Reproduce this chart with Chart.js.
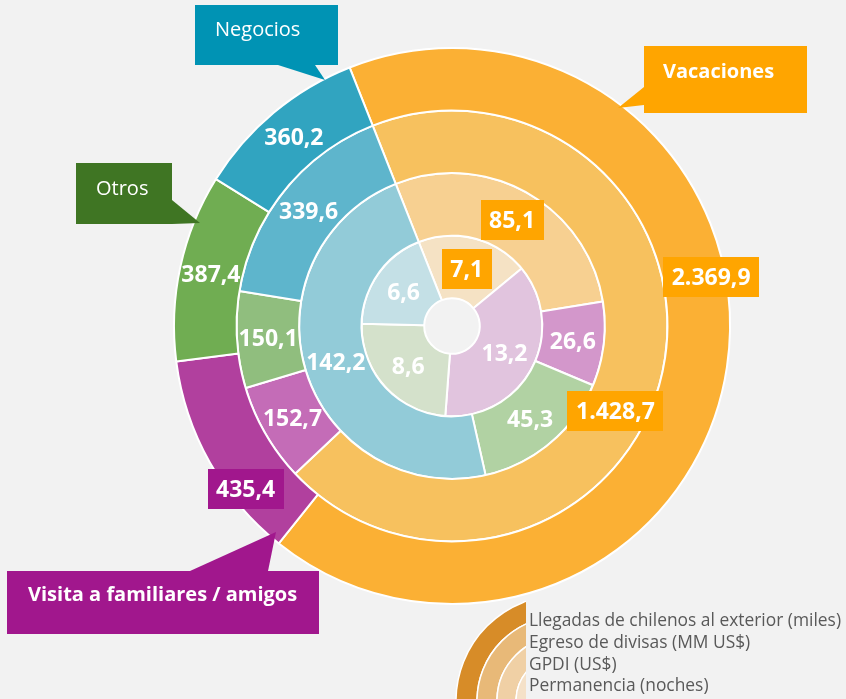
<!DOCTYPE html>
<html lang="es">
<head>
<meta charset="utf-8">
<title>Motivo de viaje de chilenos al exterior</title>
<script src="https://cdn.jsdelivr.net/npm/chart.js@4.4.1/dist/chart.umd.min.js"></script>
<style>
    html, body { margin: 0; padding: 0; background: #f2f2f2; }
    #wrap { position: relative; width: 846px; height: 699px; overflow: hidden; }
</style>
</head>
<body>
<div id="wrap"><canvas id="motivosChart" width="846" height="699"></canvas></div>
<script>
    // Datos (anillo exterior -> interior)
    const motivos = ['Vacaciones', 'Visita a familiares / amigos', 'Otros', 'Negocios'];
    const llegadas = [2369.9, 435.4, 387.4, 360.2];      // miles
    const egreso = [1428.7, 152.7, 150.1, 339.6];        // MM US$
    const gpdi = [85.1, 26.6, 45.3, 142.2];              // US$
    const permanencia = [7.1, 13.2, 8.6, 6.6];           // noches
    const anillos = ['Llegadas de chilenos al exterior (miles)', 'Egreso de divisas (MM US$)', 'GPDI (US$)', 'Permanencia (noches)'];

    const colores = [
        ['#FBB034', '#B1409E', '#70AD52', '#31A4C0'],
        ['#F7C15E', '#C46CB7', '#90BE7E', '#5EB5CC'],
        ['#F7D091', '#D397CB', '#B1D2A3', '#92CBD8'],
        ['#F5E2C4', '#E1C4DE', '#D4E1CB', '#C4E0E6']
    ];
    const coloresLeyenda = ['#D78C28', '#E8B978', '#F0D0A5', '#F5E1C8'];

    // Ajustes de posición de etiquetas (anillo-segmento)
    const ajustes = {
        '0-0': { frac: 0.42, dr: 17, box: '#FFA500' },
        '0-1': { frac: 0.30, dr: 16, box: '#A1178D' },
        '1-0': { frac: 0.56, box: '#FFA500' },
        '2-0': { box: '#FFA500' },
        '3-0': { box: '#FFA500' }
    };

    // Globos de texto
    const globos = [
        { text: 'Negocios', bold: false, color: '#0093B4', rect: [195, 5, 143, 60], tri: [[278, 65], [325, 80], [315, 65]], tx: 215, ty: 36 },
        { text: 'Otros', bold: false, color: '#3F7523', rect: [76, 163, 96, 61], tri: [[172, 200], [200, 223], [172, 224]], tx: 96, ty: 195 },
        { text: 'Vacaciones', bold: true, color: '#FFA500', rect: [644, 46, 163, 67], tri: [[644, 87], [618, 108], [644, 105]], tx: 663, ty: 78 },
        { text: 'Visita a familiares / amigos', bold: true, color: '#A1178D', rect: [7, 571, 312, 63], tri: [[190, 571], [276, 532], [268, 571]], tx: 28, ty: 601 }
    ];

    function fmt(v) {
        const parts = v.toFixed(1).split('.');
        return parts[0].replace(/\B(?=(\d{3})+(?!\d))/g, '.') + ',' + parts[1];
    }

    // 🔢 Etiquetas de valores sobre cada segmento
    const etiquetasPlugin = {
        id: 'etiquetas',
        afterDatasetsDraw(chart) {
            const ctx = chart.ctx;
            ctx.save();
            const size = 23;
            ctx.font = 'bold ' + size + 'px "Open Sans"';
            ctx.textAlign = 'center';
            ctx.textBaseline = 'alphabetic';
            chart.data.datasets.forEach((ds, di) => {
                chart.getDatasetMeta(di).data.forEach((arc, i) => {
                    const p = arc.getProps(['x', 'y', 'startAngle', 'endAngle', 'innerRadius', 'outerRadius'], true);
                    const t = ajustes[di + '-' + i] || {};
                    const frac = t.frac !== undefined ? t.frac : 0.5;
                    const a = p.startAngle + (p.endAngle - p.startAngle) * frac;
                    const r = (p.innerRadius + p.outerRadius) / 2 + (t.dr || 0);
                    const x = p.x + r * Math.cos(a);
                    const y = p.y + r * Math.sin(a);
                    const txt = fmt(ds.data[i]);
                    if (t.box) {
                        const w = ctx.measureText(txt).width + 17;
                        ctx.fillStyle = t.box;
                        ctx.fillRect(Math.round(x - w / 2), Math.round(y - 20), Math.round(w), 40);
                    }
                    ctx.fillStyle = '#ffffff';
                    ctx.fillText(txt, x, y + size * 0.357);
                });
            });
            ctx.restore();
        }
    };

    // 💬 Globos y leyenda de anillos
    const anotacionesPlugin = {
        id: 'anotaciones',
        afterDraw(chart) {
            const ctx = chart.ctx;
            ctx.save();
            globos.forEach(g => {
                ctx.fillStyle = g.color;
                ctx.fillRect(g.rect[0], g.rect[1], g.rect[2], g.rect[3]);
                ctx.beginPath();
                ctx.moveTo(g.tri[0][0], g.tri[0][1]);
                ctx.lineTo(g.tri[1][0], g.tri[1][1]);
                ctx.lineTo(g.tri[2][0], g.tri[2][1]);
                ctx.closePath();
                ctx.fill();
                ctx.fillStyle = '#ffffff';
                ctx.font = (g.bold ? 'bold ' : '') + '20px "Open Sans"';
                ctx.textAlign = 'left';
                ctx.textBaseline = 'alphabetic';
                ctx.fillText(g.text, g.tx, g.ty);
            });

            // leyenda: cuartos de anillo recortados
            ctx.save();
            ctx.beginPath();
            ctx.rect(430, 595, 96, 104);
            ctx.clip();
            const radios = [106, 85, 65, 46, 20];
            coloresLeyenda.forEach((c, k) => {
                ctx.beginPath();
                ctx.arc(562, 701, radios[k], Math.PI, 1.5 * Math.PI);
                ctx.arc(562, 701, radios[k + 1], 1.5 * Math.PI, Math.PI, true);
                ctx.closePath();
                ctx.fillStyle = c;
                ctx.fill();
                ctx.strokeStyle = '#ffffff';
                ctx.lineWidth = 1.5;
                ctx.stroke();
            });
            ctx.restore();

            ctx.fillStyle = '#595959';
            ctx.font = '17.4px "Open Sans"';
            ctx.textAlign = 'left';
            const lineas = [626, 648, 670, 691];
            anillos.forEach((txt, k) => ctx.fillText(txt, 529, lineas[k]));
            ctx.restore();
        }
    };

    function renderMotivosChart() {
        const ctx = document.getElementById('motivosChart').getContext('2d');
        const series = [llegadas, egreso, gpdi, permanencia];

        new Chart(ctx, {
            type: 'doughnut',
            data: {
                labels: motivos,
                datasets: series.map((s, k) => ({
                    label: anillos[k],
                    data: s,
                    backgroundColor: colores[k],
                    borderColor: '#ffffff',
                    borderWidth: 2
                }))
            },
            options: {
                responsive: false,
                animation: false,
                events: [],
                cutout: '10%',
                rotation: -21.6,
                layout: { padding: { left: 173, right: 115, top: 47, bottom: 94 } },
                plugins: {
                    legend: { display: false },
                    tooltip: { enabled: false }
                }
            },
            plugins: [etiquetasPlugin, anotacionesPlugin]
        });
    }

    const fuentes = ['bold 23px "Open Sans"', '20px "Open Sans"', 'bold 20px "Open Sans"', '17.4px "Open Sans"'];
    Promise.all(fuentes.map(f => document.fonts.load(f)))
        .catch(() => null)
        .then(renderMotivosChart);
</script>
</body>
</html>
